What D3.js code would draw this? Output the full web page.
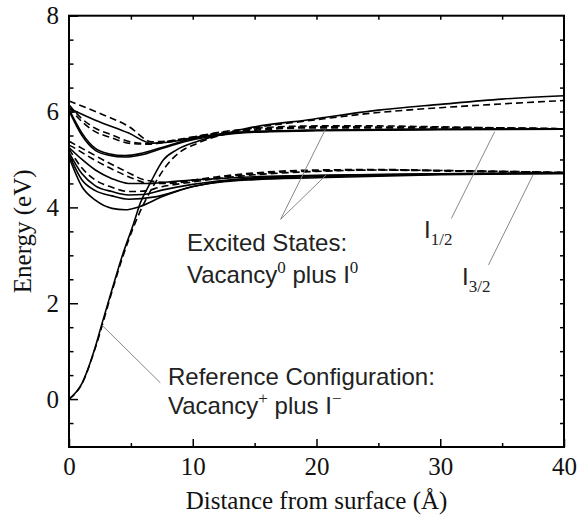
<!DOCTYPE html>
<html>
<head>
<meta charset="utf-8">
<script src="https://cdn.jsdelivr.net/npm/d3@7"></script>
<style>
  body { margin: 0; background: #fff; }
  svg { display: block; }
  .tick line { stroke: #000; stroke-width: 1.5; }
  .tick text { font-family: "Liberation Serif", serif; font-size: 25px; fill: #111; }
  .curve { fill: none; stroke: #000; stroke-width: 1.6; }
  .leader { stroke: #888; stroke-width: 1; }
  .note { font-family: "Liberation Sans", sans-serif; font-size: 24px; fill: #222; }
  .math { font-family: "Liberation Serif", serif; font-size: 17px; }
</style>
</head>
<body>
<div id="chart"></div>
<script>
// tick values
var xMajorTicks = [0, 10, 20, 30, 40];
var xMinorTicks = [5, 15, 25, 35];
var xTopTicks = [5, 10, 15, 20, 25, 30, 35];
var yMajorTicks = [0, 2, 4, 6, 8];
var yMinorTicks = [-0.5, 0.5, 1, 1.5, 2.5, 3, 3.5, 4.5, 5, 5.5, 6.5, 7, 7.5];
var yRightTicks = [-0.5, 0, 0.5, 1, 1.5, 2, 2.5, 3, 3.5, 4, 4.5, 5, 5.5, 6, 6.5, 7, 7.5];

// reference configuration (Vacancy+ plus I-)
var refSolid = [[0,0],[1.05,0.33],[2.13,1.09],[2.67,1.58],[3.47,2.28],[4.28,2.97],[5.23,3.67],
  [5.76,4.09],[6.55,4.5],[7.62,4.99],[8.7,5.2],[10.3,5.37],[12.2,5.51],[14.4,5.65],[19.7,5.84],
  [25,6.03],[30,6.15],[35,6.26],[40,6.33]];
var refDashed = [[0,0],[1.05,0.32],[2.13,1.07],[3.47,2.24],[4.28,2.92],[5.23,3.6],[5.9,4.0],
  [6.6,4.35],[7.1,4.57],[7.9,4.88],[8.9,5.14],[10.3,5.33],[12.2,5.5],[14.4,5.63],[19.7,5.82],
  [25,5.98],[30,6.08],[35,6.16],[40,6.23]];

// excited states, I 1/2 branch
var half1Dashed = [[0,6.22],[2.13,6.0],[4.82,5.69],[6.7,5.37],[8.7,5.4],[10.5,5.49],[12.2,5.57],
  [15,5.65],[20,5.7],[25,5.7],[30,5.68],[35,5.66],[40,5.64]];
var half2Solid = [[0,6.07],[2.13,5.82],[4.82,5.55],[6.7,5.34],[8,5.36],[10,5.45],[12.2,5.53],
  [15,5.58],[20,5.61],[30,5.63],[40,5.64]];
var half3Solid = [[0,6.05],[1.05,5.55],[2.13,5.23],[3.2,5.12],[4.55,5.08],[5.9,5.13],[7.5,5.25],
  [9.67,5.41],[12,5.52],[15,5.58],[20,5.61],[30,5.63],[40,5.64]];
var half4Solid = [[0,6.02],[1.05,5.5],[2.13,5.19],[3.2,5.09],[4.55,5.05],[5.9,5.1],[7.5,5.23],
  [9.67,5.39],[12,5.5],[15,5.57],[20,5.6],[30,5.62],[40,5.63]];
var half5Dashed = [[0,6.14],[1.0,5.86],[1.86,5.69],[3.47,5.51],[5.1,5.36],[6.5,5.33],[8,5.38],
  [10,5.47],[12.2,5.56],[15,5.63],[20,5.68],[30,5.67],[40,5.64]];
var half6Dashed = [[0,6.09],[1.0,5.8],[1.86,5.62],[3.47,5.45],[5.1,5.33],[6.5,5.32],[8,5.37],
  [10,5.45],[12.2,5.54],[15,5.61],[20,5.66],[30,5.66],[40,5.64]];

// excited states, I 3/2 branch
var threeHalf1Dashed = [[0,5.38],[1.5,5.17],[3.2,4.93],[4.6,4.75],[6.17,4.57],[8,4.52],[10,4.57],
  [12,4.64],[15,4.72],[20,4.78],[25,4.79],[30,4.77],[40,4.73]];
var threeHalf2Dashed = [[0,5.3],[0.51,5.23],[1.86,5.02],[3.47,4.8],[5,4.62],[6.5,4.5],[8,4.5],
  [10,4.55],[12,4.62],[15,4.7],[20,4.76],[25,4.78],[30,4.76],[40,4.72]];
var threeHalf3Solid = [[0,5.05],[1.05,4.43],[2.13,4.15],[3.47,3.98],[4.55,3.95],[5.63,4.01],
  [7.5,4.22],[9.94,4.43],[12,4.52],[15,4.58],[20,4.62],[30,4.68],[40,4.71]];
var threeHalf4Solid = [[0,5.1],[1.05,4.57],[2.13,4.35],[3.47,4.24],[4.82,4.17],[6.97,4.22],
  [9.94,4.43],[12,4.53],[15,4.6],[20,4.64],[30,4.69],[40,4.71]];
var threeHalf5Solid = [[0,5.15],[1.05,4.7],[2.13,4.45],[3.47,4.33],[4.82,4.26],[6,4.27],[7.5,4.36],
  [10,4.48],[12,4.55],[15,4.62],[20,4.66],[30,4.7],[40,4.72]];
var threeHalf6Dashed = [[0,5.22],[1.05,4.82],[2.13,4.57],[3.47,4.42],[4.82,4.33],[6,4.34],[7.5,4.43],
  [10,4.53],[12,4.6],[15,4.68],[20,4.75],[25,4.78],[30,4.77],[40,4.73]];
var threeHalf7Solid = [[0,5.25],[1.05,5.0],[2.13,4.78],[3.47,4.6],[4.82,4.5],[6.4,4.5],[8,4.53],
  [9.94,4.57],[12,4.6],[15,4.64],[20,4.67],[30,4.7],[40,4.72]];

var WIDTH = 578,
    HEIGHT = 519,
    MARGINS = {top: 15.7, right: 14, bottom: 72, left: 69};

var x = d3.scaleLinear().domain([0, 40]).range([MARGINS.left, WIDTH - MARGINS.right]);
var y = d3.scaleLinear().domain([-1, 8]).range([HEIGHT - MARGINS.bottom, MARGINS.top]);

var svg = d3.select("#chart").append("svg")
  .attr("width", WIDTH)
  .attr("height", HEIGHT);

//// axes and ticks

function tickAxis(axis, translate) {
  var g = svg.append("g")
    .attr("transform", translate)
    .call(axis);
  g.select(".domain").remove();
  return g;
}

var x0 = "translate(0," + y(-1) + ")",
    xTop = "translate(0," + y(8) + ")",
    yLeft = "translate(" + x(0) + ",0)",
    yRight = "translate(" + x(40) + ",0)";

tickAxis(d3.axisBottom(x).tickValues(xMajorTicks).tickSizeInner(-8).tickSizeOuter(0).tickPadding(10), x0);
tickAxis(d3.axisBottom(x).tickValues(xMinorTicks).tickSizeInner(-4).tickSizeOuter(0).tickFormat(""), x0);
tickAxis(d3.axisTop(x).tickValues(xTopTicks).tickSizeInner(-4).tickSizeOuter(0).tickFormat(""), xTop);
tickAxis(d3.axisLeft(y).tickValues(yMajorTicks).tickSizeInner(-9).tickSizeOuter(0).tickPadding(10), yLeft);
tickAxis(d3.axisLeft(y).tickValues(yMinorTicks).tickSizeInner(-4.5).tickSizeOuter(0).tickFormat(""), yLeft);
tickAxis(d3.axisRight(y).tickValues(yRightTicks).tickSizeInner(-4).tickSizeOuter(0).tickFormat(""), yRight);

svg.append("rect")
  .attr("x", x(0))
  .attr("y", y(8))
  .attr("width", x(40) - x(0))
  .attr("height", y(-1) - y(8))
  .attr("fill", "none")
  .attr("stroke", "#000")
  .attr("stroke-width", 2);

svg.append("text")
  .attr("x", (x(0) + x(40)) / 2)
  .attr("y", 509)
  .attr("text-anchor", "middle")
  .style("font-family", "Liberation Serif, serif")
  .style("font-size", "25px")
  .style("fill", "#111")
  .text("Distance from surface (\u00C5)");

svg.append("text")
  .attr("transform", "translate(31," + ((y(-1) + y(8)) / 2) + ") rotate(-90)")
  .attr("text-anchor", "middle")
  .style("font-family", "Liberation Serif, serif")
  .style("font-size", "25px")
  .style("fill", "#111")
  .text("Energy (eV)");

//// curves

var series = [
  {pts: refSolid, dashed: false},
  {pts: refDashed, dashed: true},
  {pts: half1Dashed, dashed: true},
  {pts: half2Solid, dashed: false},
  {pts: half3Solid, dashed: false},
  {pts: half4Solid, dashed: false},
  {pts: half5Dashed, dashed: true},
  {pts: half6Dashed, dashed: true},
  {pts: threeHalf1Dashed, dashed: true},
  {pts: threeHalf2Dashed, dashed: true},
  {pts: threeHalf3Solid, dashed: false},
  {pts: threeHalf4Solid, dashed: false},
  {pts: threeHalf5Solid, dashed: false},
  {pts: threeHalf6Dashed, dashed: true},
  {pts: threeHalf7Solid, dashed: false}
];

var lineFunc = d3.line()
  .x(function (d) { return x(d[0]); })
  .y(function (d) { return y(d[1]); })
  .curve(d3.curveMonotoneX);

svg.selectAll(".curve")
  .data(series)
  .enter().append("path")
    .attr("class", "curve")
    .attr("d", function (d) { return lineFunc(d.pts); })
    .attr("stroke-dasharray", function (d) { return d.dashed ? "7,4" : null; });

//// annotations

function leader(x1, y1, x2, y2) {
  svg.append("line")
    .attr("class", "leader")
    .attr("x1", x(x1)).attr("y1", y(y1))
    .attr("x2", x(x2)).attr("y2", y(y2));
}

leader(17.1, 3.75, 20.7, 5.62);
leader(17.1, 3.75, 20.8, 4.68);
leader(30.9, 3.77, 34.4, 5.58);
leader(33.9, 2.8, 37.5, 4.68);
leader(2.67, 1.54, 7.38, 0.34);

function note(px, py, parts) {
  var t = svg.append("text")
    .attr("class", "note")
    .attr("x", px)
    .attr("y", py);
  parts.forEach(function (p) {
    var s = t.append("tspan").text(p.text);
    if (p.sup) s.attr("class", "math").attr("dy", -10);
    if (p.sub) s.attr("class", "math").attr("dy", 7);
    if (p.back) s.attr("dy", p.back);
  });
}

note(187, 251, [{text: "Excited States:"}]);
note(187, 283, [{text: "Vacancy"}, {text: "0", sup: true}, {text: " plus I", back: 10}, {text: "0", sup: true}]);
note(168, 385, [{text: "Reference Configuration:"}]);
note(168, 414, [{text: "Vacancy"}, {text: "+", sup: true}, {text: " plus I", back: 10}, {text: "\u2212", sup: true}]);
note(424, 238, [{text: "I"}, {text: "1/2", sub: true}]);
note(462, 285, [{text: "I"}, {text: "3/2", sub: true}]);
</script>
</body>
</html>
